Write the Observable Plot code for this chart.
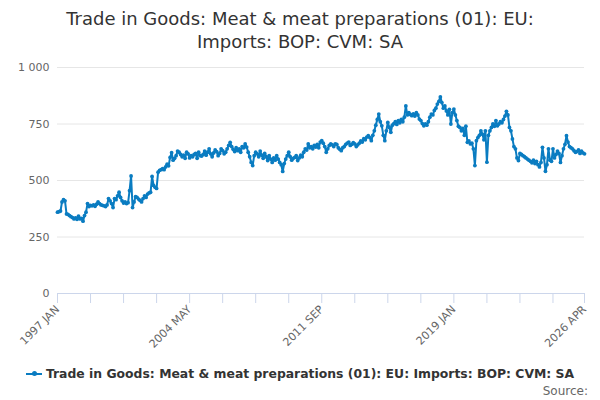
<!DOCTYPE html>
<html>
<head>
<meta charset="utf-8">
<script src="https://cdn.jsdelivr.net/npm/d3@7"></script>
<script src="https://cdn.jsdelivr.net/npm/@observablehq/plot@0.6"></script>
<style>
  body { margin: 0; width: 600px; height: 400px; overflow: hidden; background: #fff; font-family: "DejaVu Sans", sans-serif; }
  #title { height: 55px; box-sizing: border-box; padding-top: 7px; text-align: center; font-size: 18px; line-height: 23px; color: #333; }
  #chart svg { display: block; }
  #legend { position: absolute; left: 0; top: 366px; width: 600px; text-align: center; font-size: 12.4px; font-weight: bold; color: #333; }
  #legend .sym { display: inline-block; position: relative; width: 16px; height: 2px; background: #0a7cc1; vertical-align: middle; margin-right: 4px; margin-top: -2px; }
  #legend .sym::after { content: ""; position: absolute; left: 6px; top: -1.5px; width: 5px; height: 5px; border-radius: 50%; background: #0a7cc1; }
  #source { position: absolute; right: 12px; top: 384px; font-size: 12px; color: #666; }
</style>
</head>
<body>
<div id="title">Trade in Goods: Meat &amp; meat preparations (01): EU:<br>Imports: BOP: CVM: SA</div>
<div id="chart"></div>
<div id="legend"><span class="sym"></span>Trade in Goods: Meat &amp; meat preparations (01): EU: Imports: BOP: CVM: SA</div>
<div id="source">Source:</div>
<script>
const seriesName = "Trade in Goods: Meat & meat preparations (01): EU: Imports: BOP: CVM: SA";
const startYear = 1997;
const monthNames = ["JAN","FEB","MAR","APR","MAY","JUN","JUL","AUG","SEP","OCT","NOV","DEC"];
// monthly values, 1997 JAN .. 2026 APR
const values = [
  360, 362, 365, 405, 415, 410, 352, 350, 345, 340, 336, 330,
  335, 328, 342, 330, 332, 320, 345, 360, 398, 385, 390, 388,
  392, 386, 395, 405, 398, 392, 390, 388, 385, 392, 420, 410,
  398, 380, 420, 415, 432, 448, 425, 410, 400, 405, 398, 402,
  455, 520, 380, 405, 428, 425, 418, 412, 405, 420, 432, 425,
  440, 445, 448, 518, 478, 470, 465, 537, 545, 548, 552, 548,
  560, 572, 565, 602, 623, 590, 598, 610, 630, 625, 615, 605,
  612, 598, 625, 618, 600, 610, 605, 615, 620, 598, 625, 610,
  608, 615, 630, 612, 625, 640, 618, 605, 622, 635, 628, 610,
  620, 640, 632, 618, 625, 640, 655, 669, 650, 638, 628, 645,
  632, 640, 625, 650, 645, 662, 648, 625, 605, 580, 566, 610,
  625, 618, 605, 630, 612, 598, 620, 605, 588, 610, 595, 580,
  600, 590, 610, 595, 580, 570, 540, 575, 595, 610, 625, 605,
  590, 598, 602, 610, 588, 600, 612, 605, 625, 640, 635, 662,
  645, 650, 640, 655, 648, 660, 645, 670, 676, 665, 650, 625,
  640, 655, 662, 658, 650, 662, 660, 645, 638, 632, 645, 650,
  660, 665, 670, 655, 660, 668, 662, 650, 658, 665, 675, 670,
  685, 680, 692, 698, 690, 676, 700, 720, 745, 770, 794, 760,
  742, 700, 676, 720, 757, 735, 713, 745, 752, 760, 748, 765,
  755, 770, 760, 780, 830, 790, 800, 792, 787, 795, 785, 800,
  790, 772, 765, 752, 742, 750, 745, 760, 780, 794, 790, 810,
  820, 838, 850, 870, 845, 820, 830, 808, 790, 815, 750, 800,
  816, 790, 765, 740, 735, 720, 730, 700, 740, 669, 675, 662,
  665, 640, 566, 676, 690, 700, 720, 705, 680, 720, 581, 700,
  720, 735, 750, 740, 765, 742, 750, 760, 755, 770, 785, 806,
  790, 735, 720, 684, 650, 640, 600, 588, 620, 615, 610, 605,
  600, 595, 590, 585, 578, 590, 575, 585, 570, 560, 580, 647,
  600, 541, 570, 640, 590, 585, 640, 600, 615, 630, 620, 580,
  610, 640, 660, 698, 670, 650, 645, 640, 632, 625, 628, 635,
  620, 630, 622, 618
];
const yTicks = [0, 250, 500, 750, 1000];
const labelledMonths = [0, 88, 176, 264, 351];
const minorMonths = [0, 22, 44, 66, 88, 110, 132, 154, 176, 198, 220, 242, 264, 286, 308, 330, 351];

const monthLabel = i => `${startYear + Math.floor(i / 12)} ${monthNames[i % 12]}`;
const data = values.map((v, i) => ({i, v}));
const color = "#0a7cc1";

const chart = Plot.plot({
  width: 600,
  height: 300,
  marginLeft: 57,
  marginRight: 16,
  marginTop: 12,
  marginBottom: 62,
  style: {fontFamily: "DejaVu Sans, sans-serif", fontSize: "11px", color: "#666"},
  x: {domain: [0, values.length - 1]},
  y: {domain: [0, 1000]},
  marks: [
    Plot.gridY(yTicks, {stroke: "#e6e6e6", strokeOpacity: 1}),
    Plot.axisY(yTicks, {tickSize: 0, tickPadding: 8, fill: "#666", fontSize: 11, label: null,
      tickFormat: d => d3.format(",")(d).replace(/,/g, " ")}),
    Plot.ruleY([0], {stroke: "#ccd6eb"}),
    Plot.axisX(minorMonths, {tickSize: 10, stroke: "#ccd6eb", tickRotate: -45, fill: "#666", fontSize: 11, tickPadding: 4, label: null,
      tickFormat: d => labelledMonths.includes(d) ? monthLabel(d) : ""}),
    Plot.line(data, {x: "i", y: "v", stroke: color, strokeWidth: 2}),
    Plot.dot(data, {x: "i", y: "v", fill: color, r: 1.9})
  ]
});
document.getElementById("chart").appendChild(chart);
</script>
</body>
</html>
